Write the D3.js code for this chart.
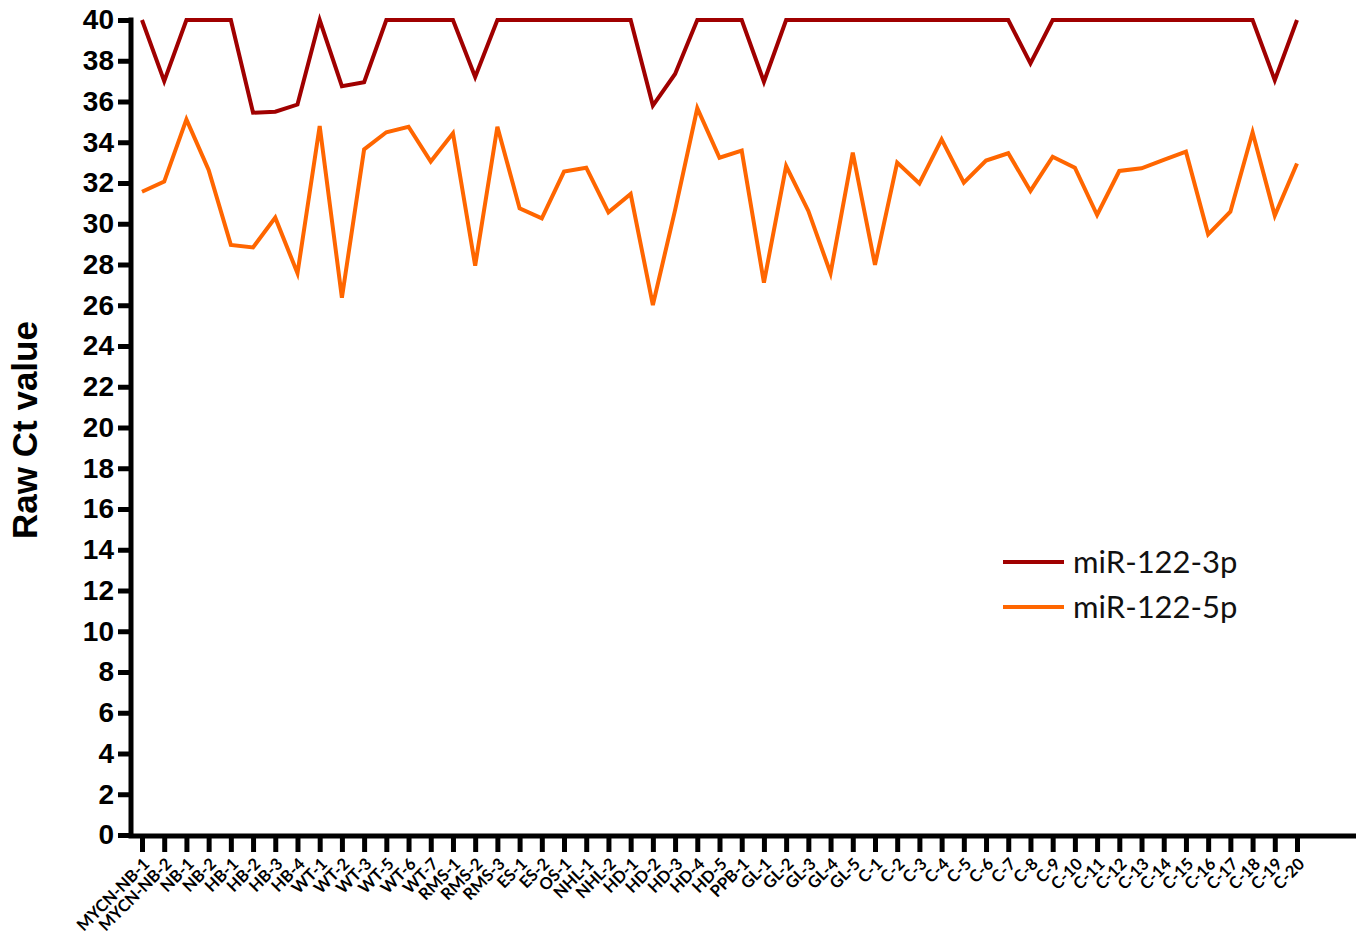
<!DOCTYPE html>
<html>
<head>
<meta charset="utf-8">
<script src="https://cdn.jsdelivr.net/npm/d3@7"></script>
<style>
  html, body { margin: 0; padding: 0; background: #fff; }
  svg { display: block; }
</style>
</head>
<body>
<div id="chart"></div>
<script>
// Sample names along the x axis
const samples = [
  "MYCN-NB-1", "MYCN-NB-2", "NB-1", "NB-2", "HB-1", "HB-2", "HB-3", "HB-4",
  "WT-1", "WT-2", "WT-3", "WT-5", "WT-6", "WT-7", "RMS-1", "RMS-2", "RMS-3",
  "ES-1", "ES-2", "OS-1", "NHL-1", "NHL-2", "HD-1", "HD-2", "HD-3", "HD-4", "HD-5",
  "PPB-1", "GL-1", "GL-2", "GL-3", "GL-4", "GL-5",
  "C-1", "C-2", "C-3", "C-4", "C-5", "C-6", "C-7", "C-8", "C-9", "C-10",
  "C-11", "C-12", "C-13", "C-14", "C-15", "C-16", "C-17", "C-18", "C-19", "C-20"
];

// Raw Ct values per sample (40 = not detected)
const mir122_3p = [
  40, 37.0, 40, 40, 40, 35.45, 35.5, 35.85, 40, 36.75, 36.95, 40, 40, 40, 40, 37.2, 40,
  40, 40, 40, 40, 40, 40, 35.8, 37.35, 40, 40,
  40, 36.97, 40, 40, 40, 40,
  40, 40, 40, 40, 40, 40, 40, 37.87, 40, 40,
  40, 40, 40, 40, 40, 40, 40, 40, 37.05, 40
];

const mir122_5p = [
  31.57, 32.07, 35.12, 32.64, 28.96, 28.84, 30.3, 27.57, 34.8, 26.37, 33.65, 34.49, 34.76, 33.05, 34.44, 27.94, 34.76,
  30.76, 30.27, 32.56, 32.75, 30.56, 31.46, 26.01, 30.67, 35.67, 33.24,
  33.59, 27.11, 32.83, 30.63, 27.57, 33.49,
  27.98, 33.0, 31.98, 34.14, 32.02, 33.1, 33.46, 31.61, 33.29, 32.75,
  30.43, 32.59, 32.72, 33.13, 33.54, 29.48, 30.59, 34.49, 30.4, 32.96
];

const seriesNames = ["miR-122-3p", "miR-122-5p"];
const seriesColors = ["#a00000", "#ff6600"];
const yTicks = d3.range(0, 41, 2);
const yTitle = "Raw Ct value";

const width = 1365, height = 946;
const axisLeft = 131, axisRight = 1356;
const firstX = 142, lastX = 1297;
const yTop = 20, yBottom = 835;

const svg = d3.select("#chart").append("svg")
  .attr("width", width)
  .attr("height", height);

const x = d3.scaleLinear().domain([0, samples.length - 1]).range([firstX, lastX]);
const y = d3.scaleLinear().domain([0, 40]).range([yBottom, yTop]);

// Y axis
const yAxis = svg.append("g")
  .attr("transform", `translate(${axisLeft},0)`)
  .call(d3.axisLeft(y).tickValues(yTicks).tickSize(13).tickPadding(4).tickFormat(d3.format("d")));
yAxis.select(".domain").remove();
yAxis.append("line")
  .attr("x1", 0).attr("x2", 0)
  .attr("y1", yTop - 2.5).attr("y2", yBottom + 2.5)
  .attr("stroke", "#000").attr("stroke-width", 5);
yAxis.selectAll(".tick line").attr("stroke", "#000").attr("stroke-width", 5);
yAxis.selectAll(".tick text")
  .attr("fill", "#000")
  .style("font-family", "'Liberation Sans', Arial, sans-serif")
  .style("font-weight", "bold")
  .style("font-size", "28px");

// X axis
const xAxis = svg.append("g")
  .attr("transform", `translate(0,${yBottom + 1})`)
  .call(d3.axisBottom(x).tickValues(d3.range(samples.length)).tickSize(16).tickPadding(6)
    .tickFormat(i => samples[i]));
xAxis.select(".domain").remove();
xAxis.append("line")
  .attr("x1", axisLeft - 2.5).attr("x2", axisRight)
  .attr("y1", 0).attr("y2", 0)
  .attr("stroke", "#000").attr("stroke-width", 5);
xAxis.selectAll(".tick line").attr("stroke", "#000").attr("stroke-width", 5);
xAxis.selectAll(".tick text")
  .attr("fill", "#000")
  .attr("text-anchor", "end")
  .attr("dy", "0.35em")
  .attr("transform", "translate(4,25) rotate(-45)")
  .attr("x", 0).attr("y", 0)
  .style("font-family", "Lato, 'Open Sans', sans-serif")
  .style("font-weight", "bold")
  .style("font-size", "16.5px");

// Y title
svg.append("text")
  .attr("transform", `translate(37,430) rotate(-90)`)
  .attr("text-anchor", "middle")
  .style("font-family", "'Liberation Sans', Arial, sans-serif")
  .style("font-weight", "bold")
  .style("font-size", "35px")
  .text(yTitle);

// Lines
const line = d3.line().x((d, i) => x(i)).y(d => y(d));
[mir122_3p, mir122_5p].forEach((vals, k) => {
  svg.append("path")
    .datum(vals)
    .attr("fill", "none")
    .attr("stroke", seriesColors[k])
    .attr("stroke-width", 4)
    .attr("stroke-linejoin", "miter")
    .attr("d", line);
});

// Legend
const legend = svg.append("g").attr("transform", "translate(1003,562)");
seriesNames.forEach((name, k) => {
  const g = legend.append("g").attr("transform", `translate(0,${k * 45})`);
  g.append("line")
    .attr("x1", 0).attr("x2", 61).attr("y1", 0).attr("y2", 0)
    .attr("stroke", seriesColors[k]).attr("stroke-width", 4);
  g.append("text")
    .attr("x", 70).attr("y", 0).attr("dy", "0.35em")
    .style("font-family", "Lato, 'Open Sans', sans-serif")
    .style("font-size", "31px")
    .attr("fill", "#111")
    .text(name);
});
</script>
</body>
</html>
